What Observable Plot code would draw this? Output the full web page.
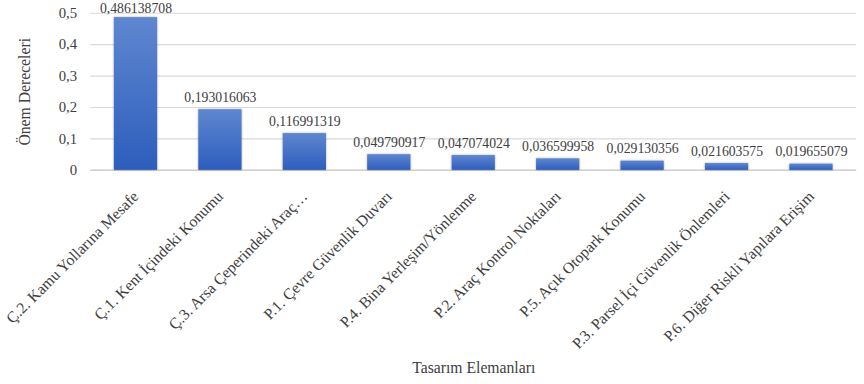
<!DOCTYPE html>
<html>
<head>
<meta charset="utf-8">
<script src="https://cdn.jsdelivr.net/npm/d3@7"></script>
<script src="https://cdn.jsdelivr.net/npm/@observablehq/plot@0.6"></script>
<style>
  html, body { margin: 0; padding: 0; background: #fff; }
  #chart { width: 864px; height: 384px; overflow: hidden; }
  #chart svg, #chart svg text { font-family: "Liberation Serif", "DejaVu Serif", serif !important; }
</style>
</head>
<body>
<div id="chart"></div>
<script>
const categories = [
  "Ç.2. Kamu Yollarına Mesafe",
  "Ç.1. Kent İçindeki Konumu",
  "Ç.3. Arsa Çeperindeki Araç…",
  "P.1. Çevre Güvenlik Duvarı",
  "P.4. Bina Yerleşim/Yönlenme",
  "P.2. Araç Kontrol Noktaları",
  "P.5. Açık Otopark Konumu",
  "P.3. Parsel İçi Güvenlik Önlemleri",
  "P.6. Diğer Riskli Yapılara Erişim"
];
const values = [0.486138708, 0.193016063, 0.116991319, 0.049790917, 0.047074024, 0.036599958, 0.029130356, 0.021603575, 0.019655079];
const valueLabels = ["0,486138708", "0,193016063", "0,116991319", "0,049790917", "0,047074024", "0,036599958", "0,029130356", "0,021603575", "0,019655079"];
const yTicks = [0, 0.1, 0.2, 0.3, 0.4, 0.5];
const yTickLabels = ["0", "0,1", "0,2", "0,3", "0,4", "0,5"];
const xTitle = "Tasarım Elemanları";
const yTitle = "Önem Dereceleri";

const data = categories.map((c, i) => ({category: c, value: values[i], label: valueLabels[i]}));

const gradientDefs = () => {
  const defs = d3.create("svg:defs");
  const g = defs.append("linearGradient").attr("id", "barGrad")
    .attr("x1", 0).attr("y1", 0).attr("x2", 0).attr("y2", 1);
  g.append("stop").attr("offset", "0%").attr("stop-color", "#5f87d0");
  g.append("stop").attr("offset", "100%").attr("stop-color", "#2d5ebd");
  return defs.node();
};

const chart = Plot.plot({
  width: 880,
  height: 384,
  marginLeft: 92,
  marginRight: 8,
  marginTop: 13,
  marginBottom: 211,
  style: {fontFamily: "'Liberation Serif', serif", fontSize: "15px", color: "#404040", background: "#fff"},
  x: {domain: categories, paddingInner: 0.49, paddingOuter: 0.245, label: null},
  y: {domain: [0, 0.5], label: null},
  marks: [
    gradientDefs,
    Plot.gridY(yTicks, {stroke: "#d9d9d9", strokeOpacity: 1, strokeWidth: 1.2}),
    Plot.ruleY([0], {stroke: "#cfcfcf", strokeWidth: 1.5}),
    Plot.barY(data, {x: "category", y: "value", fill: "url(#barGrad)"}),
    // label position clamped inside the plot area, as the original chart does
    Plot.text(data, {x: "category", y: d => Math.min(d.value, 0.476), text: "label", dy: -8, lineAnchor: "bottom", fontSize: 14, fill: "#404040"}),
    Plot.axisY(yTicks, {tickFormat: (d, i) => yTickLabels[i], tickSize: 0, tickPadding: 14, fontSize: 15, label: null}),
    Plot.axisY({ticks: [], tickSize: 0, label: yTitle, labelAnchor: "center", labelOffset: 73, fontSize: 16, labelArrow: "none"}),
    Plot.axisX({tickRotate: -45, tickSize: 0, tickPadding: 24, fontSize: 16, label: null}),
    Plot.axisX({ticks: [], tickSize: 0, label: xTitle, labelAnchor: "center", labelOffset: 206, fontSize: 16, labelArrow: "none"})
  ]
});

d3.select(chart).selectAll("g[aria-label='bar'] rect")
  .style("filter", "drop-shadow(0px 0px 1.2px rgba(0,0,0,0.35))");

document.getElementById("chart").appendChild(chart);
</script>
</body>
</html>
